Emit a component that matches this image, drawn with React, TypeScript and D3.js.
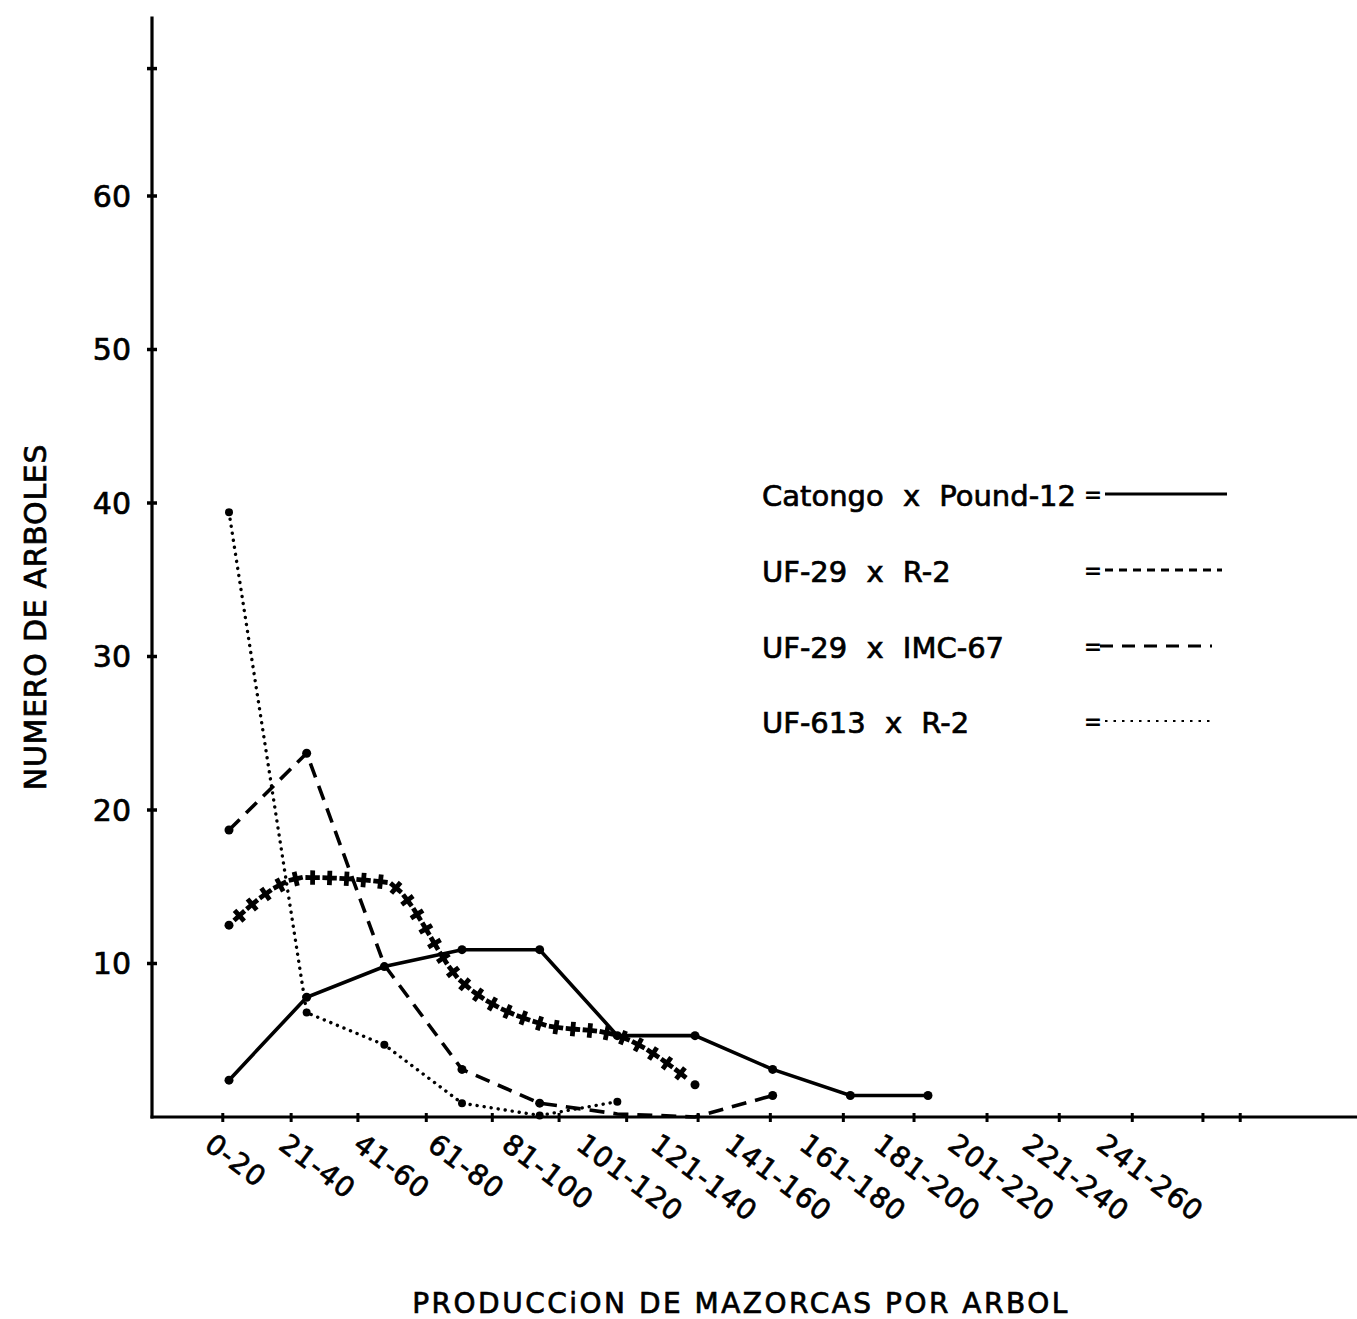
import { useEffect, useRef } from 'react';
import * as d3 from 'd3';

// pod classes on the x axis
const categories = [
  '0-20', '21-40', '41-60', '61-80', '81-100', '101-120', '121-140',
  '141-160', '161-180', '181-200', '201-220', '221-240', '241-260',
];

// number of trees per class
const catongoPound12 = [2.4, 7.8, 9.8, 10.9, 10.9, 5.3, 5.3, 3.1, 1.4, 1.4];
const uf29R2 = [12.5, 15.6, 15.3, 8.8, 6.1, 5.3, 2.1];
const uf29Imc67 = [18.7, 23.7, 9.9, 3.1, 0.9, 0.2, 0, 1.4];
const uf613R2 = [39.4, 6.8, 4.7, 0.9, 0.1, 1.0];

const yTickValues = [10, 20, 30, 40, 50, 60];
const yExtraTicks = [68.3];
// hand drawn tick marks on the x axis, in class-index units
const xTickIndex = [
  -0.08, 0.8, 1.66, 2.54, 3.39, 4.25, 5.12, 6.04, 6.97, 7.91, 8.82, 9.76,
  10.69, 11.63, 12.54, 13.02,
];

const legendLabels = [
  'Catongo x Pound-12',
  'UF-29 x R-2',
  'UF-29 x IMC-67',
  'UF-613 x R-2',
];

const FONT = "'DejaVu Sans', sans-serif";

export default function App() {
  const ref = useRef<SVGSVGElement | null>(null);

  useEffect(() => {
    if (!ref.current) return;
    const width = 1357;
    const height = 1319;
    const svg = d3.select(ref.current);
    svg.selectAll('*').remove();
    svg.attr('width', width).attr('height', height);

    const x = d3.scaleLinear().domain([0, 9]).range([229, 928]);
    const y = d3.scaleLinear().domain([0, 60]).range([1117, 196]);
    const labelX = d3.scaleLinear().domain([0, 12]).range([200, 1092]);
    const axisX = 152;
    const yTop = 71.7;

    const g = svg.append('g');

    // scanned lettering is a bit heavier than the plain font
    const ink = (sel: any, size: number) =>
      sel
        .style('font-family', FONT)
        .style('font-size', `${size}px`)
        .style('fill', '#000')
        .style('stroke', '#000')
        .style('stroke-width', '0.7px');

    // axes
    g.append('line')
      .attr('x1', axisX)
      .attr('x2', axisX)
      .attr('y1', y(yTop))
      .attr('y2', y(0) + 1.5)
      .attr('stroke', '#000')
      .attr('stroke-width', 3.2);
    g.append('line')
      .attr('x1', axisX - 1.5)
      .attr('x2', width)
      .attr('y1', y(0))
      .attr('y2', y(0))
      .attr('stroke', '#000')
      .attr('stroke-width', 3.2);

    // y ticks
    g.selectAll('line.yt')
      .data([...yTickValues, ...yExtraTicks])
      .enter()
      .append('line')
      .attr('class', 'yt')
      .attr('x1', axisX - 5)
      .attr('x2', axisX + 5)
      .attr('y1', (d) => y(d))
      .attr('y2', (d) => y(d))
      .attr('stroke', '#000')
      .attr('stroke-width', 3.5);
    ink(
      g.selectAll('text.yl')
        .data(yTickValues)
        .enter()
        .append('text')
        .attr('class', 'yl')
        .attr('x', 131)
        .attr('y', (d) => y(d))
        .attr('dy', '0.36em')
        .attr('text-anchor', 'end'),
      30
    ).text((d: number) => d);

    // x ticks
    g.selectAll('line.xt')
      .data(xTickIndex)
      .enter()
      .append('line')
      .attr('class', 'xt')
      .attr('x1', (d) => x(d))
      .attr('x2', (d) => x(d))
      .attr('y1', y(0) - 4)
      .attr('y2', y(0) + 5)
      .attr('stroke', '#000')
      .attr('stroke-width', 3);

    // x labels, rotated
    ink(
      g.selectAll('text.xl')
        .data(categories)
        .enter()
        .append('text')
        .attr('class', 'xl')
        .attr(
          'transform',
          (_: string, i: number) => `translate(${labelX(i) + 3},${1148}) rotate(37)`
        )
        .style('letter-spacing', '1px'),
      28
    ).text((d: string) => d);

    // axis titles
    ink(
      g.append('text')
        .attr('transform', 'translate(46,617) rotate(-90)')
        .attr('text-anchor', 'middle')
        .style('letter-spacing', '0.7px'),
      30
    ).text('NUMERO DE ARBOLES');
    ink(
      g.append('text')
        .attr('x', 741)
        .attr('y', 1313)
        .attr('text-anchor', 'middle')
        .style('letter-spacing', '2.5px'),
      28
    ).text('PRODUCCiON DE MAZORCAS POR ARBOL');

    const lineLinear = d3
      .line<number>()
      .x((_, i) => x(i))
      .y((d) => y(d));
    const lineSmooth = d3
      .line<number>()
      .x((_, i) => x(i))
      .y((d) => y(d))
      .curve(d3.curveMonotoneX);

    const dot = (data: number[], idx: number[], r: number) => {
      g.selectAll(null)
        .data(idx)
        .enter()
        .append('circle')
        .attr('cx', (i) => x(i))
        .attr('cy', (i) => y(data[i]))
        .attr('r', r)
        .attr('fill', '#000');
    };

    // UF-613 x R-2 dotted
    g.append('path')
      .attr('d', lineLinear(uf613R2))
      .attr('fill', 'none')
      .attr('stroke', '#000')
      .attr('stroke-width', 3.4)
      .attr('stroke-linecap', 'round')
      .attr('stroke-dasharray', '0.1 7');
    dot(uf613R2, d3.range(uf613R2.length), 4);

    // UF-29 x IMC-67 long dashes
    g.append('path')
      .attr('d', lineLinear(uf29Imc67))
      .attr('fill', 'none')
      .attr('stroke', '#000')
      .attr('stroke-width', 3.6)
      .attr('stroke-dasharray', '15 9');
    dot(uf29Imc67, [0, 1, 3, 4, 7], 4.5);

    // Catongo x Pound-12 solid
    g.append('path')
      .attr('d', lineLinear(catongoPound12))
      .attr('fill', 'none')
      .attr('stroke', '#000')
      .attr('stroke-width', 3.6);
    dot(catongoPound12, d3.range(catongoPound12.length), 4.5);

    // UF-29 x R-2 drawn with crosses along a curve
    const guide = g
      .append('path')
      .attr('d', lineSmooth(uf29R2))
      .attr('fill', 'none')
      .attr('stroke', 'none');
    const node = guide.node() as SVGPathElement;
    const total = node.getTotalLength();
    const step = 17;
    for (let s = 14; s < total - 9; s += step) {
      const p = node.getPointAtLength(s);
      const p2 = node.getPointAtLength(Math.min(total, s + 1));
      const ang = (Math.atan2(p2.y - p.y, p2.x - p.x) * 180) / Math.PI;
      g.append('path')
        .attr('d', d3.symbol(d3.symbolCross, 115)())
        .attr('transform', `translate(${p.x},${p.y}) rotate(${ang})`)
        .attr('fill', '#000');
    }
    dot(uf29R2, [0, uf29R2.length - 1], 4.5);

    // legend
    const legendY = [506, 582, 658, 733];
    const legendDash = ['none', '8 6', '13 9', '2.5 6'];
    const legendStart = [1105, 1105, 1100, 1105];
    const legendEnd = [1227, 1222, 1212, 1215];
    legendLabels.forEach((label, i) => {
      ink(
        g.append('text')
          .attr('x', 762)
          .attr('y', legendY[i])
          .style('word-spacing', '10px'),
        29
      ).text(label);
      g.append('text')
        .attr('x', 1093)
        .attr('y', legendY[i] - 12)
        .attr('dy', '0.36em')
        .attr('text-anchor', 'middle')
        .style('font-family', FONT)
        .style('font-size', '22px')
        .style('font-weight', 'bold')
        .text('=');
      g.append('line')
        .attr('x1', legendStart[i])
        .attr('x2', legendEnd[i])
        .attr('y1', legendY[i] - 12)
        .attr('y2', legendY[i] - 12)
        .attr('stroke', '#000')
        .attr('stroke-width', i === 3 ? 2 : 2.8)
        .attr('stroke-dasharray', legendDash[i]);
    });
  }, []);

  return (
    <div style={{ position: 'absolute', left: 0, top: 0, background: '#fff' }}>
      <svg ref={ref} style={{ display: 'block' }} />
    </div>
  );
}
